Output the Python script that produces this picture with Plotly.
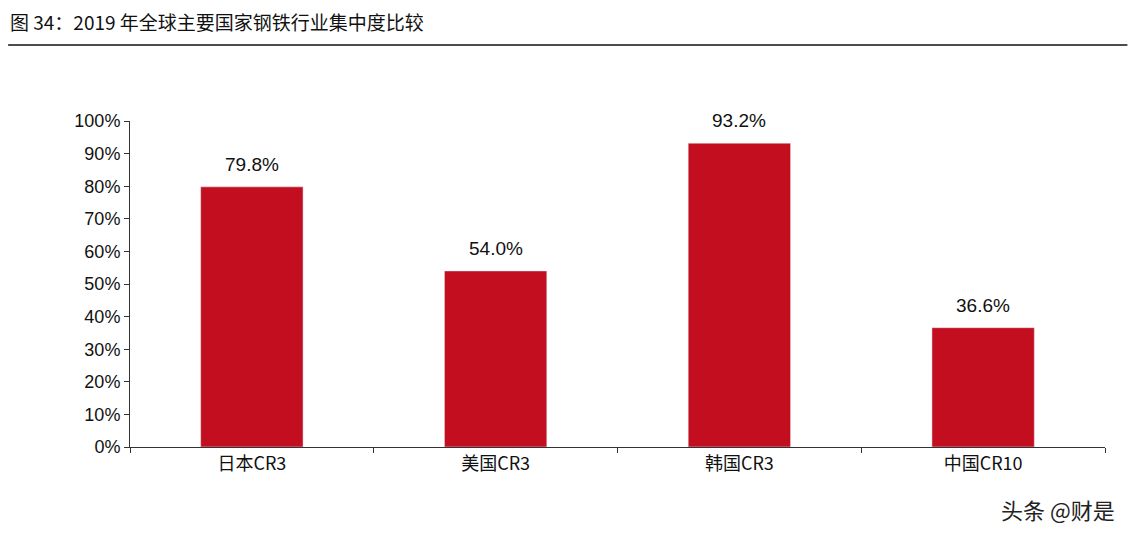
import plotly.graph_objects as go

categories = ["日本CR3", "美国CR3", "韩国CR3", "中国CR10"]
values = [0.798, 0.540, 0.932, 0.366]
labels = ["79.8%", "54.0%", "93.2%", "36.6%"]

fig = go.Figure(go.Bar(x=categories, y=values, marker_color="#C20E1E", width=0.42))

for c, v, t in zip(categories, values, labels):
    fig.add_annotation(x=c, y=v, text=t, showarrow=False, yanchor="bottom", yshift=10,
                       font=dict(family="Arial, Liberation Sans", size=19, color="#111"))

fig.update_layout(
    width=1120, height=526,
    margin=dict(l=122, r=23, t=113, b=87),
    plot_bgcolor="white", paper_bgcolor="white",
    showlegend=False,
    font=dict(family="Arial, Liberation Sans, Noto Sans CJK SC", size=18, color="#111"),
)
fig.update_yaxes(range=[0, 1], dtick=0.1, tickformat=".0%", showgrid=False,
                 showline=True, linecolor="#333", ticks="outside", ticklen=5,
                 tickcolor="#333", zeroline=False)
fig.update_xaxes(showline=True, linecolor="#333", ticks="outside", ticklen=5,
                 tickcolor="#333", tickson="boundaries",
                 tickfont=dict(family="Noto Sans CJK SC, Arial", size=18))

fig.add_annotation(text="图 34：2019 年全球主要国家钢铁行业集中度比较",
                   xref="paper", yref="paper", x=-0.125, y=1.304,
                   xanchor="left", yanchor="middle", showarrow=False,
                   font=dict(family="Noto Sans CJK SC", size=19, color="#111"))
fig.add_annotation(text="头条 @财是", xref="paper", yref="paper", x=1.012, y=-0.19,
                   xanchor="right", yanchor="middle", showarrow=False,
                   font=dict(family="Noto Sans CJK SC", size=22, color="#222"))
fig.add_shape(type="line", xref="paper", yref="paper", x0=-0.125, x1=1.023,
              y0=1.233, y1=1.233, line=dict(color="#111", width=1.5))
fig.add_shape(type="line", xref="paper", yref="paper", x0=-0.125, x1=1.023,
              y0=-0.27, y1=-0.27, line=dict(color="#111", width=1.5))

fig.write_html("out.html")
